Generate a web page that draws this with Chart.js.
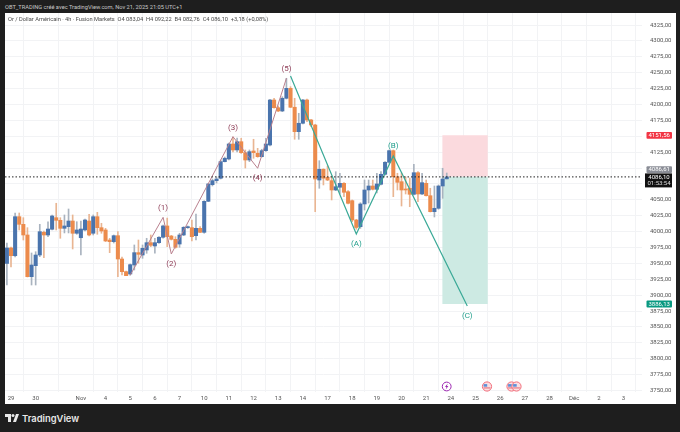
<!DOCTYPE html>
<html>
<head>
<meta charset="utf-8">
<script src="https://cdn.jsdelivr.net/npm/chart.js@4/dist/chart.umd.js"></script>
<style>
	html, body { margin: 0; padding: 0; width: 680px; height: 432px; overflow: hidden; background: #1e1e1e; font-family: Roboto, sans-serif; }
	#credit { position: absolute; left: 5px; top: 3px; font-size: 5.7px; line-height: 8px; color: #c8c8c8; white-space: nowrap; }
	#panel { position: absolute; left: 5px; top: 13px; width: 671px; height: 391px; background: #fff; }
	#info { position: absolute; left: 8px; top: 15px; font-size: 5.7px; line-height: 8px; color: #4a4a4a; white-space: nowrap; }
	#logo { position: absolute; left: 5px; top: 411px; height: 14px; display: flex; align-items: center; color: #e8e8e8; font: 600 9.4px Inter, sans-serif; }
	#logo svg { margin-right: 3px; }
	canvas { display: block; }
</style>
</head>
<body>
<div id="credit">OBT_TRADING créé avec TradingView.com, Nov 21, 2025 21:05 UTC+1</div>
<div id="panel"><canvas id="chart" width="671" height="391"></canvas></div>
<div id="info">Or / Dollar Américain · 4h · Fusion Markets &nbsp;O4 083,04 &nbsp;H4 092,22 &nbsp;B4 082,76 &nbsp;C4 086,10 &nbsp;+3,18 (+0,08%)</div>
<div id="logo"><svg width="14" height="8" viewBox="0 0 14 8"><path d="M0 0h6v8H3V3H0z" fill="#e8e8e8"/><circle cx="8" cy="1.5" r="1.5" fill="#e8e8e8"/><path d="M11 0h3l-3 8H8z" fill="#e8e8e8"/></svg>TradingView</div>
<script>
// candles, one every 4h
const opens = [3949.9,3974.3,3962.1,4023.5,4011.5,3994.7,3929.1,3946.4,3963.2,3999,3994.7,4003.7,4021.9,4017.8,4005.2,4007.8,4016.7,3997.4,3990.4,4002.6,4016.7,3997.4,4023.5,4006.2,4002.6,3986.8,3984.2,3993.6,3956.9,3937,3933.3,3947.5,3966.9,3963.2,3971.1,3982.6,3977.4,3982.6,3991.1,4008.9,3993.1,3987.9,3980.5,3994.7,4006.2,4006.2,3993.6,4005.2,3998.9,4047.7,4073.9,4080.2,4083.9,4110.1,4114.3,4137.9,4128.5,4141.5,4124.2,4112.7,4126.9,4123.3,4117.9,4127.4,4136.3,4207.1,4195,4189.8,4209.8,4225.5,4195.7,4157.3,4170.5,4207.1,4175.7,4167.8,4081.2,4098.1,4085.5,4080.2,4065.5,4069.8,4076,4062.8,4048.7,4018.3,4007.8,4043.5,4065.5,4071.8,4066.6,4074.5,4090.2,4109.1,4127.4,4086.4,4078.6,4067,4068.2,4058.7,4092.7,4059.2,4076,4056.5,4031.4,4036.7,4071.8,4083.04];
const highs = [3982.1,3975.8,4029.3,4029.3,4021.9,4006.2,3966.4,3968.4,4011.5,4001,4015.6,4026.2,4044.6,4021.9,4026.2,4035.6,4026.2,4015.6,4016.7,4019.9,4027.3,4026.2,4030.4,4013.1,4005.2,3989.5,3994.7,3999.9,3960,3938,3949.1,3979,3986.8,3979,3989.5,3994.7,3989.5,3992,4010.4,4021.3,3994.2,3992,3997.4,4007.8,4008.9,4018.3,4027.7,4007.8,4048.7,4076,4082.8,4086,4112.7,4117.4,4139.5,4148.9,4147.3,4146.9,4128.5,4128.5,4145.3,4131.1,4129.6,4146.9,4208.2,4209.8,4197.7,4212.3,4241.3,4228.1,4209.8,4186.2,4208.2,4208.7,4176.8,4168.9,4111.6,4099,4103.3,4087.5,4094.3,4091.8,4077,4064.4,4049.8,4019.4,4045.5,4081.2,4081.2,4081.2,4091.8,4094.3,4110.1,4128.5,4128.5,4091.8,4092.3,4086,4084.4,4106,4094.3,4091.8,4081.2,4068.2,4071.8,4073.4,4099.7,4092.22];
const lows = [3916,3944.3,3960,4002.6,3986.8,3928.6,3916,3916,3960.6,3959,3992,4002.6,4002.6,3989.5,3997.9,3997.9,3972.7,3995.8,3963.2,4001,3993.1,3994.7,3995.8,3997.4,3984.2,3966.9,3982.1,3929.1,3931.8,3930.7,3931.3,3939.6,3950.2,3958,3965.9,3976.3,3965.9,3981.6,3989.5,3976.3,3986.8,3973.8,3975.3,3993.6,4005,3985.3,3986.8,3998.3,3997.4,4047.1,4071.8,4076.5,4082.8,4109.6,4112.7,4125.3,4125.3,4123,4100.1,4110.1,4115.4,4117,4117.4,4126.1,4134.8,4194.1,4188.7,4188.7,4208.7,4195,4145.3,4145.3,4169.4,4173,4165.1,4031.4,4068.2,4073.4,4080.2,4049.8,4064.4,4059.2,4054.9,4043.5,4015.6,4003.7,4005.2,4034,4045,4065.5,4060.8,4073.4,4089.1,4107.5,4055,4065.5,4040.3,4059.2,4039.2,4057.6,4047.1,4058.1,4056,4030.9,4023,4035.2,4052.4,4082.76];
const closes = [3974.3,3962.1,4023.5,4011.5,3994.7,3929.1,3947.5,3963.2,3999.9,3994.7,4004.1,4024.6,4017.8,4005.2,4008.9,4016.7,3997.4,4002.6,4004.1,4018.3,3994.7,4023.5,4006.2,4001,3985.3,3984.2,3993.6,3956.9,3937,3930.7,3948,3966.9,3964.3,3973.8,3982.6,3978.5,3982.6,3991.1,4008.9,3992,3987.9,3975.3,3994.7,4006.8,4007.8,3992,4005.2,3998.9,4047.7,4075,4080.2,4082.8,4110.1,4115.4,4137.9,4128.5,4141.5,4124.2,4112.7,4125.8,4124.2,4117.9,4127.4,4137.9,4207.1,4195,4189.8,4209.8,4225.5,4195.7,4157.3,4170.5,4207.1,4175.7,4167.8,4082.8,4098.1,4084,4081.2,4065.5,4070.7,4076,4061.9,4044.6,4018.3,4006.5,4043.5,4065.5,4071.8,4066.6,4075,4090.2,4109.1,4127.4,4086.4,4077.6,4065.5,4065.5,4058.7,4092.7,4059.2,4077,4056.5,4031.4,4036.7,4071.8,4082.8,4086.1];

// axes
const priceTicks = [4325,4300,4275,4250,4225,4200,4175,4150,4125,4100,4075,4050,4025,4000,3975,3950,3925,3900,3875,3850,3825,3800,3775,3750];
const hiddenPrices = [4150,4100,4075]; // sit under the price tags
const dateIndex = [1,7,18,24,30,36,42,48,54,60,66,72,78,84,90,96,102,108,114,120,126,132,138,144,150];
const dateLabels = ["29","30","Nov","4","5","6","7","10","11","12","13","14","17","18","19","20","21","24","25","26","27","28","Déc","2","3"];

// drawings
const impulseX = [30,38,40,55,61,68];
const impulseY = [3931.7,4022.5,3964.8,4149.4,4099.7,4241.3];
const impulseLabels = ["","(1)","(2)","(3)","(4)","(5)"];
const correctionX = [69,85,94,112];
const correctionY = [4244.9,3996.3,4119,3883];
const correctionLabels = ["","(A)","(B)","(C)"];
const zoneX = [105.9,117];
const entryPrice = 4086.61;
const stopPrice = 4151.56;
const targetPrice = 3886.13;
const lastPrice = 4086.1;

const UP = "#4a74ad";
const DOWN = "#ec8b4c";
const UP_WICK = "#a9b3bf";
const DOWN_WICK = "#e9b592";
const WAVE_RED = "#8d3b55";
const WAVE_GREEN = "#1f9e8b";

const isUp = closes.map((c, i) => c >= opens[i]);
const pts = (xs, ys) => xs.map((x, i) => ({ x: x, y: ys[i] }));
const fmt = (v) => v.toFixed(2).replace(".", ",");

// wave labels, price tags and calendar icons
const overlay = {
	id: "overlay",
	afterDraw(chart) {
		const { ctx, scales } = chart;
		const px = (v) => scales.x.getPixelForValue(v);
		const py = (v) => scales.y.getPixelForValue(v);
		ctx.save();
		ctx.textAlign = "center";
		ctx.textBaseline = "middle";
		ctx.font = "8px Roboto, sans-serif";
		// below for lows, above for highs
		const offsetsA = [0, -9, 10, -9, 10, -9];
		ctx.fillStyle = WAVE_RED;
		impulseLabels.forEach((t, i) => ctx.fillText(t, px(impulseX[i]), py(impulseY[i]) + offsetsA[i]));
		const offsetsB = [0, 10, -10, 10];
		ctx.fillStyle = WAVE_GREEN;
		correctionLabels.forEach((t, i) => ctx.fillText(t, px(correctionX[i]), py(correctionY[i]) + offsetsB[i]));

		// price tags
		function tag(text, value, color, shift) {
			const y = py(value) + shift;
			ctx.fillStyle = color;
			ctx.beginPath();
			ctx.roundRect(641.5, y - 3.4, 25.5, 6.8, 1);
			ctx.fill();
			ctx.fillStyle = "#fff";
			ctx.font = "6px Roboto, sans-serif";
			ctx.fillText(text, 654.2, y + 0.3);
		}
		tag(fmt(stopPrice), stopPrice, "#f23645", 0);
		tag(fmt(entryPrice), entryPrice, "#8a8d96", -7);
		tag(fmt(targetPrice), targetPrice, "#089981", 0);
		const yLast = py(lastPrice);
		ctx.fillStyle = "#111";
		ctx.fillRect(640, yLast - 3.5, 27, 14);
		ctx.fillStyle = "#fff";
		ctx.font = "6px Roboto, sans-serif";
		ctx.fillText(fmt(lastPrice), 654, yLast + 0.3);
		ctx.fillStyle = "#ddd";
		ctx.fillText("01:53:54", 654, yLast + 7);

		// events row
		const yIcon = 373.5;
		ctx.lineWidth = 1;
		ctx.strokeStyle = "#9c27b0";
		ctx.fillStyle = "#fff";
		ctx.beginPath();
		ctx.arc(441.7, yIcon, 4.4, 0, Math.PI * 2);
		ctx.fill();
		ctx.stroke();
		ctx.fillStyle = "#9c27b0";
		ctx.beginPath();
		ctx.moveTo(442.7, yIcon - 3);
		ctx.lineTo(440, yIcon + 0.5);
		ctx.lineTo(441.5, yIcon + 0.5);
		ctx.lineTo(440.7, yIcon + 3);
		ctx.lineTo(443.4, yIcon - 0.5);
		ctx.lineTo(441.9, yIcon - 0.5);
		ctx.closePath();
		ctx.fill();
		[482, 506.5, 511.5].forEach((x) => {
			ctx.strokeStyle = "#f26d7a";
			ctx.fillStyle = "#fbdfe2";
			ctx.beginPath();
			ctx.arc(x, yIcon, 4.6, 0, Math.PI * 2);
			ctx.fill();
			ctx.stroke();
			ctx.fillStyle = "#5b8fd8";
			ctx.fillRect(x - 3.4, yIcon - 2.4, 3.6, 2.6);
			ctx.fillStyle = "#e05a68";
			ctx.fillRect(x - 3.4, yIcon + 1, 6.8, 0.9);
		});
		ctx.restore();
	},
};

const chart = new Chart(document.getElementById("chart"), {
	data: {
		datasets: [
			{
				type: "line",
				data: pts(zoneX, [stopPrice, stopPrice]),
				fill: { value: entryPrice },
				backgroundColor: "#fbdade",
				borderWidth: 0,
				pointRadius: 0,
				order: 6,
			},
			{
				type: "line",
				data: pts(zoneX, [targetPrice, targetPrice]),
				fill: { value: entryPrice },
				backgroundColor: "#cdeae3",
				borderWidth: 0,
				pointRadius: 0,
				order: 6,
			},
			{
				type: "bar",
				data: lows.map((l, i) => ({ x: i, y: [l, highs[i]] })),
				backgroundColor: isUp.map((u) => (u ? UP_WICK : DOWN_WICK)),
				barThickness: 1,
				grouped: false,
				order: 5,
			},
			{
				type: "bar",
				data: opens.map((o, i) => ({ x: i, y: [o, closes[i]] })),
				backgroundColor: isUp.map((u) => (u ? UP : DOWN)),
				barThickness: 3.4,
				minBarLength: 1,
				grouped: false,
				order: 4,
			},
			{
				type: "line",
				data: pts(impulseX, impulseY),
				borderColor: "#b9808e",
				borderWidth: 1,
				pointRadius: 0,
				tension: 0,
				order: 3,
			},
			{
				type: "line",
				data: pts(correctionX, correctionY),
				borderColor: "#3aa997",
				borderWidth: 1.2,
				pointRadius: 0,
				tension: 0,
				order: 3,
			},
			{
				type: "line",
				data: pts([-0.46, 154.5], [lastPrice, lastPrice]),
				borderColor: "#222",
				borderWidth: 1,
				borderDash: [1.5, 2],
				pointRadius: 0,
				order: 2,
			},
		],
	},
	options: {
		responsive: false,
		animation: false,
		devicePixelRatio: 1,
		layout: { padding: 0 },
		plugins: {
			legend: { display: false },
			tooltip: { enabled: false },
			title: { display: false },
		},
		scales: {
			x: {
				type: "linear",
				min: -0.46,
				max: 154.5,
				offset: false,
				afterBuildTicks: (scale) => {
					scale.ticks = dateIndex.map((v) => ({ value: v }));
				},
				afterFit: (scale) => {
					scale.height = 12;
					scale.paddingLeft = 0;
					scale.paddingRight = 0;
				},
				grid: { color: "#f2f3f5", lineWidth: 1, drawTicks: false },
				border: { display: false },
				ticks: {
					autoSkip: false,
					maxRotation: 0,
					padding: 3,
					color: "#555",
					font: { size: 6, family: "Roboto, sans-serif" },
					callback: (v) => {
						const n = dateIndex.indexOf(v);
						return n < 0 ? null : dateLabels[n];
					},
				},
			},
			y: {
				type: "linear",
				position: "right",
				min: 3747.64,
				max: 4344,
				afterBuildTicks: (scale) => {
					scale.ticks = priceTicks.map((v) => ({ value: v }));
				},
				afterFit: (scale) => {
					scale.width = 34;
					scale.paddingTop = 0;
					scale.paddingBottom = 0;
				},
				grid: { color: "#f2f3f5", lineWidth: 1, drawTicks: false },
				border: { display: false },
				ticks: {
					autoSkip: false,
					padding: 8,
					color: "#555",
					font: { size: 6, family: "Roboto, sans-serif" },
					callback: (v) => (hiddenPrices.includes(v) ? "" : fmt(v)),
				},
			},
		},
	},
	plugins: [overlay],
});
</script>
</body>
</html>
